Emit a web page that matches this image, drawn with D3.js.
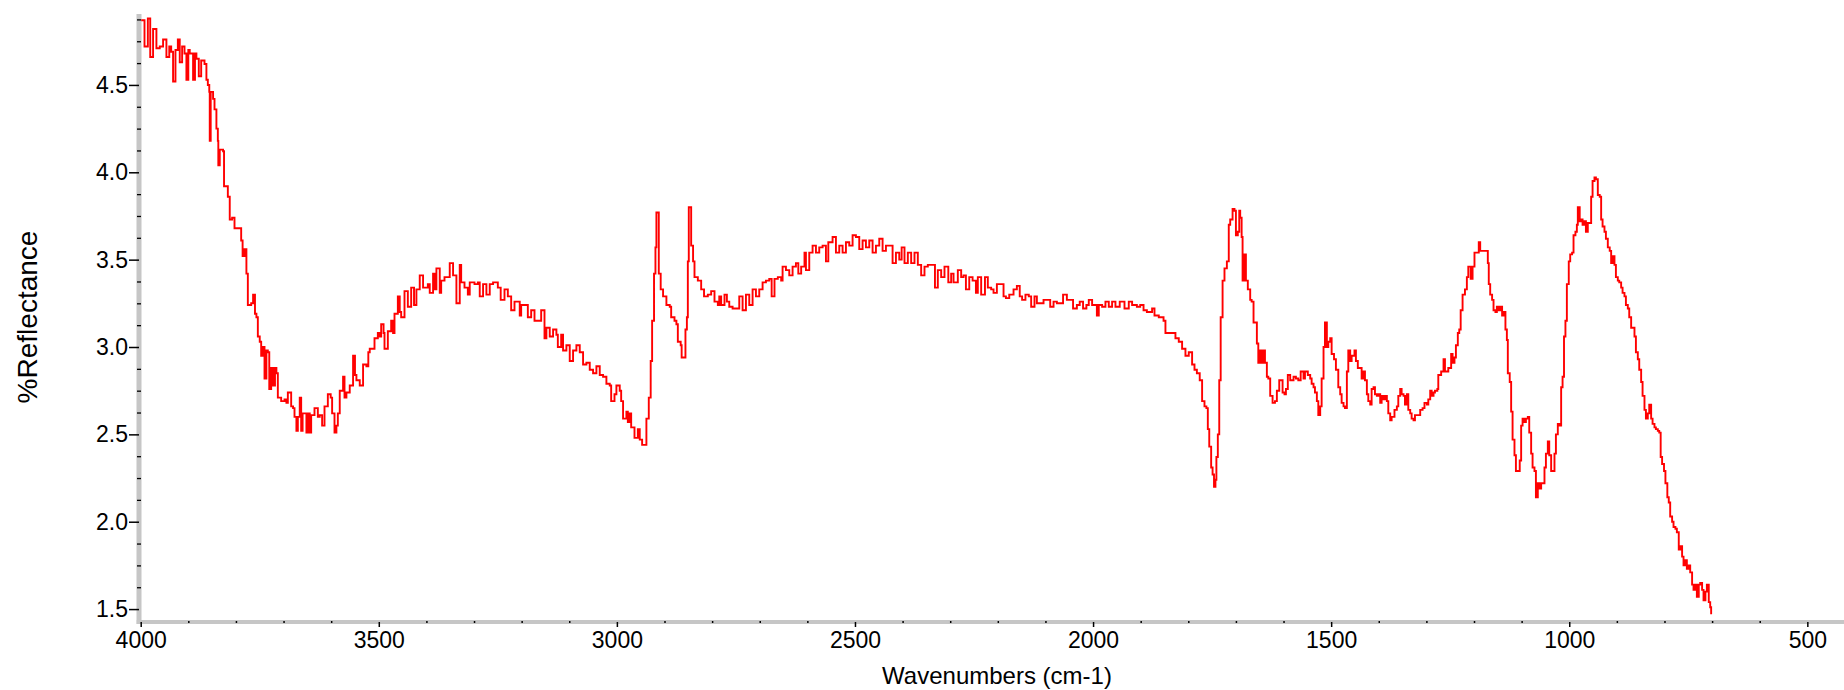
<!DOCTYPE html>
<html>
<head>
<meta charset="utf-8">
<script src="https://cdn.jsdelivr.net/npm/d3@7"></script>
<style>
  html, body { margin: 0; padding: 0; background: #fff; }
  svg { display: block; }
  text { font-family: "Liberation Sans", Arial, sans-serif; fill: #000; }
</style>
</head>
<body>
<svg id="chart" width="1844" height="690"></svg>
<script>
// ---- data ----
const wavenumbers = [
  3999,3992,3985,3980,3974,3967,3960,3953,3946,3940,3936,3932,3927,3922,3918,3913,3908,3904,3900,3897,
  3890,3886,3883,3878,3873,3866,3862,3859,3856,3855,3853,3848,3845,3841,3838,3837,3834,3827,3825,3817,
  3813,3808,3803,3796,3789,3786,3782,3778,3775,3768,3764,3760,3757,3754,3750,3747,3743,3740,3736,3733,
  3730,3726,3722,3718,3715,3712,3705,3698,3694,3691,3684,3680,3677,3673,3670,3666,3663,3660,3656,3652,
  3649,3645,3642,3635,3628,3624,3619,3614,3607,3601,3598,3593,3589,3586,3582,3575,3572,3568,3561,3554,
  3550,3547,3540,3533,3526,3522,3519,3509,3502,3498,3495,3490,3488,3481,3474,3470,3467,3460,3456,3453,
  3446,3439,3432,3426,3421,3414,3407,3397,
  3393,3386,3383,3379,3372,3369,3362,3355,3351,3344,3337,3330,3327,3320,3313,3309,3299,3292,3288,3281,
  3274,3267,3260,3250,3244,3236,3229,3222,3215,3204,3201,3194,3187,3180,3173,3166,3159,3152,3148,3141,
  3134,3127,3124,3117,3113,3106,3099,3092,3085,3078,3071,3064,3057,3050,3043,3036,3029,3022,3015,3012,
  3005,3001,2994,2991,2987,2980,2977,2973,2970,2963,2956,2952,2947,2940,2938,2933,2929,2926,2922,2919,
  2917,2914,2912,2908,2903,2896,2889,2886,2879,2875,2872,2866,2864,2858,2856,2853,2851,2849,2846,2844,
  2840,2837,2830,2823,2817,2809,2802,2795,2788,
  2785,2781,2774,2769,2764,2757,2750,2743,2736,2729,2722,2715,2708,2701,2694,2687,2680,2675,2669,2662,
  2655,2652,2645,2638,2631,2624,2619,2613,2606,2603,2596,2589,2582,2575,2568,2561,2556,2547,2540,2533,
  2526,2519,2512,2505,2498,2491,2484,2477,2470,2463,2456,2449,2442,2435,2428,2421,2414,2407,2402,2396,
  2389,2382,2375,2368,2361,2354,2347,2340,2332,2326,2319,2312,2304,2298,2293,2284,2277,2272,2267,2260,
  2253,2246,2242,2235,2227,2221,2214,2209,2202,2193,2188,2183,2176,
  2174,2170,2167,2160,2154,2149,2142,2135,2130,2123,2118,2111,2104,2097,2090,2083,2076,2069,2063,2055,
  2048,2042,2034,2028,2021,2014,2009,2002,1992,1988,1981,1974,1967,1960,1953,1944,1934,1925,1918,1908,
  1901,1894,1887,1876,1871,1862,1852,1848,1841,1834,1827,1820,1813,1806,1799,1792,1787,1782,1776,1771,
  1766,1762,1759,1756,1752,1749,1746,1743,1741,1738,1735,1732,1728,1724,1719,1715,1712,1707,1703,1700,
  1696,1693,1691,
  1688,1686,1682,1679,1675,1670,1667,1663,1658,1656,1653,1649,1646,1642,1639,1635,1632,1628,1623,1618,
  1614,1609,1605,1602,1598,1595,1591,1586,1579,1574,1569,1564,1558,1555,1549,1544,1541,1537,1534,1530,
  1527,1523,1520,1516,1513,1509,1506,1502,1499,1494,1490,1485,1481,1478,1474,1471,1467,1464,1460,1457,
  1451,1448,1444,1439,1436,1432,1429,1425,1422,1418,1415,1411,1408,1404,1401,1397,1394,1390,1387,1383,
  1380,1376,1373,1367,1362,1359,1355,1352,1348,1345,1341,1338,1334,1331,1327,1324,1318,1313,1308,1304,
  1299,1296,1292,1289,1285,1282,1277,1275,1269,1264,1261,1254,1248,1245,1241,1238,1234,1231,1228,1224,
  1219,1215,1212,1207,1203,1199,
  1197,1190,1187,1180,1174,1171,1169,1166,1162,1159,1155,1152,1148,1145,1141,1138,1134,1131,1129,1125,
  1122,1119,1115,1112,1106,1104,1101,1098,1094,1091,1087,1084,1080,1077,1073,1070,1066,1063,1059,1056,
  1052,1049,1045,1042,1038,1035,1031,1028,1024,1021,1017,1014,1011,1008,1005,1001,998,994,991,987,
  984,982,978,975,972,968,965,961,957,954,951,947,944,940,936,933,930,926,923,919,
  915,912,909,905,902,898,895,891,888,884,881,877,874,870,867,863,860,856,853,849,
  846,842,839,835,832,828,825,821,818,814,811,808,805,801,798,794,791,788,784,781,
  777,774,770,767,763,760,756,753,749,746,742,739,735,732,728,725,721,718,714,711,
  707,704,702
];
const reflectance = [
  4.87,4.72,4.88,4.66,4.82,4.71,4.72,4.76,4.66,4.72,4.69,4.52,4.70,4.76,4.63,4.72,4.68,4.53,4.70,4.68,
  4.53,4.68,4.65,4.55,4.64,4.62,4.53,4.50,4.46,4.18,4.46,4.42,4.36,4.25,4.18,4.04,4.13,4.12,3.92,3.86,
  3.73,3.74,3.68,3.68,3.61,3.52,3.56,3.42,3.24,3.25,3.30,3.19,3.17,3.06,3.03,2.95,3.00,2.82,2.98,2.97,
  2.76,2.88,2.78,2.88,2.85,2.71,2.69,2.70,2.68,2.74,2.66,2.65,2.60,2.52,2.60,2.71,2.52,2.62,2.62,2.51,
  2.62,2.51,2.61,2.65,2.60,2.61,2.55,2.66,2.73,2.71,2.62,2.51,2.55,2.62,2.75,2.83,2.71,2.74,2.78,2.95,
  2.84,2.81,2.78,2.90,2.89,2.97,2.99,3.05,3.08,3.06,3.13,3.08,2.99,3.09,3.15,3.08,3.19,3.29,3.20,3.17,
  3.32,3.23,3.34,3.24,3.33,3.41,3.34,3.36,
  3.31,3.42,3.33,3.45,3.31,3.38,3.40,3.40,3.48,3.41,3.25,3.47,3.37,3.34,3.30,3.37,3.36,3.37,3.29,3.36,
  3.30,3.36,3.37,3.34,3.27,3.33,3.29,3.21,3.26,3.18,3.24,3.24,3.17,3.21,3.15,3.15,3.21,3.05,3.11,3.06,
  3.10,3.07,3.00,3.07,2.98,3.01,2.92,2.98,3.01,2.97,2.90,2.91,2.87,2.85,2.89,2.84,2.83,2.79,2.78,2.69,
  2.73,2.78,2.75,2.69,2.59,2.63,2.57,2.62,2.54,2.48,2.53,2.47,2.44,2.44,2.59,2.71,2.92,3.15,3.42,3.57,
  3.77,3.77,3.42,3.33,3.29,3.24,3.23,3.17,3.15,3.13,3.03,3.01,2.94,2.94,3.10,3.17,3.49,3.80,3.80,3.58,
  3.49,3.40,3.38,3.33,3.29,3.30,3.32,3.26,3.24,
  3.29,3.24,3.30,3.26,3.23,3.22,3.22,3.29,3.21,3.30,3.24,3.33,3.29,3.33,3.37,3.38,3.39,3.29,3.39,3.40,
  3.38,3.46,3.44,3.41,3.46,3.48,3.42,3.46,3.54,3.44,3.54,3.58,3.54,3.57,3.58,3.49,3.60,3.63,3.54,3.58,
  3.54,3.60,3.58,3.64,3.63,3.56,3.61,3.57,3.61,3.54,3.58,3.62,3.55,3.58,3.58,3.48,3.54,3.50,3.57,3.48,
  3.54,3.48,3.54,3.47,3.41,3.46,3.47,3.47,3.34,3.44,3.40,3.46,3.37,3.42,3.37,3.44,3.40,3.41,3.33,3.40,
  3.38,3.31,3.40,3.30,3.40,3.34,3.33,3.31,3.36,3.36,3.29,3.28,3.30,
  3.30,3.30,3.33,3.35,3.29,3.27,3.30,3.29,3.23,3.29,3.25,3.25,3.27,3.27,3.23,3.26,3.25,3.25,3.30,3.27,
  3.27,3.22,3.24,3.26,3.22,3.24,3.27,3.24,3.18,3.24,3.23,3.26,3.23,3.26,3.23,3.26,3.22,3.26,3.24,3.23,
  3.24,3.21,3.20,3.22,3.18,3.17,3.15,3.08,3.08,3.08,3.05,3.03,2.99,2.95,2.97,2.90,2.87,2.85,2.81,2.69,
  2.66,2.65,2.53,2.43,2.31,2.27,2.20,2.24,2.37,2.50,2.81,3.17,3.38,3.45,3.49,3.70,3.73,3.79,3.78,3.64,
  3.66,3.78,3.74,
  3.63,3.38,3.53,3.38,3.33,3.27,3.26,3.14,3.14,3.02,2.91,2.98,2.91,2.98,2.91,2.83,2.82,2.72,2.68,2.69,
  2.75,2.81,2.81,2.74,2.73,2.76,2.84,2.81,2.83,2.82,2.81,2.86,2.82,2.86,2.84,2.82,2.79,2.77,2.74,2.69,
  2.61,2.66,2.82,3.00,3.14,3.00,3.03,3.05,2.96,2.93,2.87,2.77,2.73,2.68,2.66,2.65,2.86,2.98,2.92,2.95,
  2.98,2.92,2.88,2.88,2.82,2.86,2.81,2.73,2.69,2.67,2.76,2.77,2.73,2.72,2.73,2.68,2.72,2.70,2.72,2.69,
  2.62,2.58,2.60,2.64,2.66,2.72,2.76,2.73,2.72,2.67,2.73,2.64,2.62,2.59,2.58,2.61,2.61,2.64,2.65,2.68,
  2.67,2.70,2.75,2.72,2.74,2.75,2.76,2.84,2.86,2.93,2.86,2.88,2.96,2.91,2.94,3.01,3.08,3.10,3.21,3.30,
  3.33,3.40,3.46,3.39,3.46,3.54,
  3.54,3.60,3.55,3.55,3.55,3.48,3.36,3.30,3.27,3.21,3.20,3.23,3.21,3.23,3.18,3.20,3.10,3.04,2.85,2.80,
  2.63,2.47,2.38,2.29,2.29,2.35,2.55,2.59,2.57,2.59,2.60,2.51,2.39,2.31,2.29,2.14,2.22,2.19,2.22,2.22,
  2.31,2.39,2.46,2.38,2.29,2.29,2.39,2.50,2.56,2.55,2.77,2.83,3.06,3.15,3.36,3.49,3.53,3.54,3.64,3.66,
  3.70,3.80,3.72,3.73,3.70,3.72,3.66,3.71,3.71,3.86,3.95,3.97,3.96,3.87,3.86,3.73,3.69,3.66,3.62,3.57,
  3.55,3.48,3.52,3.47,3.40,3.38,3.37,3.34,3.31,3.29,3.24,3.22,3.17,3.11,3.11,3.06,2.97,2.93,2.87,2.80,
  2.72,2.64,2.59,2.62,2.67,2.59,2.56,2.54,2.53,2.52,2.51,2.37,2.33,2.29,2.22,2.14,2.11,2.03,2.00,1.97,
  1.96,1.94,1.84,1.86,1.80,1.75,1.78,1.73,1.75,1.71,1.64,1.61,1.64,1.57,1.64,1.65,1.61,1.55,1.60,1.64,
  1.54,1.51,1.47
];
const xMajorTicks = [4000, 3500, 3000, 2500, 2000, 1500, 1000, 500];
const xMinorTicks = [3900,3800,3700,3600,3400,3300,3200,3100,2900,2800,2700,2600,2400,2300,2200,2100,
                     1900,1800,1700,1600,1400,1300,1200,1100,900,800,700,600];
const yMajorTicks = [1.5, 2.0, 2.5, 3.0, 3.5, 4.0, 4.5];
const yMinorTicks = [1.625,1.75,1.875,2.125,2.25,2.375,2.625,2.75,2.875,3.125,3.25,3.375,
                     3.625,3.75,3.875,4.125,4.25,4.375,4.625,4.75,4.875];
const xTitle = "Wavenumbers (cm-1)";
const yTitle = "%Reflectance";

// ---- drawing ----
const svg = d3.select("#chart");
const x = d3.scaleLinear().domain([4000, 423]).range([140.7, 1844]);
const y = d3.scaleLinear().domain([1.426, 4.906]).range([622, 14]);
const axisGray = "#c6c6c6";

// y axis (gray band + major ticks + labels)
const gy = svg.append("g").attr("transform", "translate(139,0)")
  .call(d3.axisLeft(y).tickValues(yMajorTicks).tickSize(10).tickSizeOuter(0)
        .tickPadding(1).tickFormat(d3.format(".1f")));
gy.select(".domain").attr("stroke", axisGray).attr("stroke-width", 5)
  .attr("d", `M0,${y.range()[0] + 2}V${y.range()[1]}`);
gy.selectAll(".tick line").attr("stroke", "#000").attr("stroke-width", 1.5);
gy.selectAll(".tick text").style("font-size", "23px").attr("fill", "#000");

const gyMinor = svg.append("g").attr("transform", "translate(141,0)")
  .call(d3.axisLeft(y).tickValues(yMinorTicks).tickSize(4).tickFormat(""));
gyMinor.select(".domain").remove();
gyMinor.selectAll(".tick line").attr("stroke", "#000").attr("stroke-width", 1.3);

// x axis
const gx = svg.append("g").attr("transform", "translate(0,622)")
  .call(d3.axisBottom(x).tickValues(xMajorTicks).tickSize(5).tickSizeOuter(0)
        .tickPadding(5).tickFormat(d3.format("d")));
gx.select(".domain").attr("stroke", axisGray).attr("stroke-width", 4)
  .attr("d", `M${x.range()[0] - 4},0H${x.range()[1]}`);
gx.selectAll(".tick line").attr("stroke", "#000").attr("stroke-width", 1.5);
gx.selectAll(".tick text").style("font-size", "23px").attr("fill", "#000");

const gxMinor = svg.append("g").attr("transform", "translate(0,621)")
  .call(d3.axisBottom(x).tickValues(xMinorTicks).tickSize(2).tickFormat(""));
gxMinor.select(".domain").remove();
gxMinor.selectAll(".tick line").attr("stroke", "#000").attr("stroke-width", 1.5);

// spectrum
const pts = wavenumbers.map((w, i) => [w, reflectance[i]]);
const line = d3.line().x(d => x(d[0])).y(d => y(d[1])).curve(d3.curveStepAfter);
svg.append("path").datum(pts)
  .attr("fill", "none").attr("stroke", "#ff0000").attr("stroke-width", 1.9)
  .attr("stroke-linejoin", "miter").attr("d", line);

// titles
svg.append("text").attr("x", 997).attr("y", 684).attr("text-anchor", "middle")
  .style("font-size", "24px").text(xTitle);
svg.append("text").attr("transform", "translate(37,317) rotate(-90)")
  .attr("text-anchor", "middle").style("font-size", "28px").text(yTitle);
</script>
</body>
</html>
